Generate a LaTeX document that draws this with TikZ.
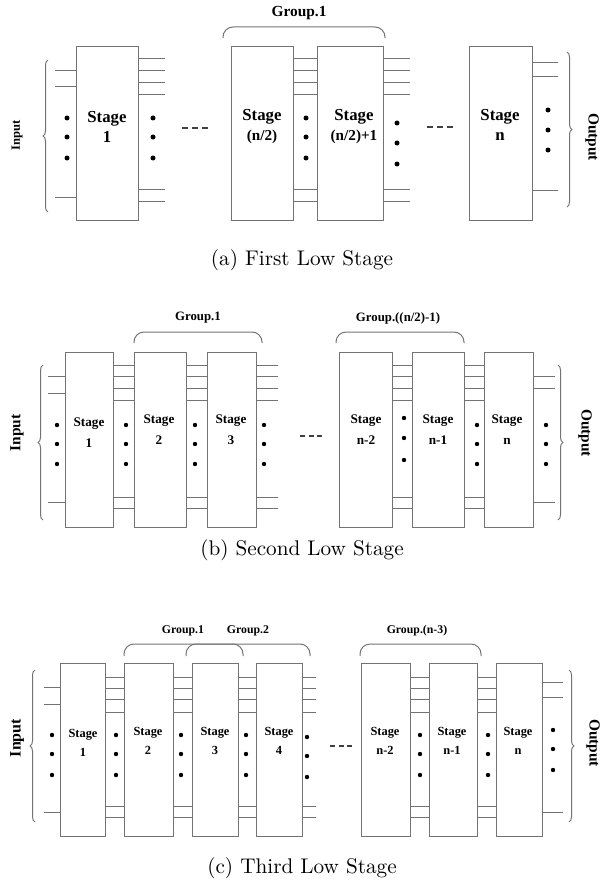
\documentclass[tikz,border=0pt]{standalone}
\usepackage{fontspec}
\newfontfamily\lblfont{Liberation Serif}
\usetikzlibrary{fit,decorations.pathreplacing}
\definecolor{wiregray}{RGB}{115,115,115}

\tikzset{
  stagebox/.style={draw=wiregray, line width=0.5pt, inner sep=0pt},
  stagetxt/.style={align=center, inner sep=0pt},
  wire/.style={draw=wiregray, line width=0.5pt},
  grpbrace/.style={draw=wiregray, line width=0.5pt, rounded corners=5pt},
  iobrace/.style={draw=wiregray, line width=0.5pt, decorate,
    decoration={brace, amplitude=2.5pt}},
  ellip/.style={draw=black!75, line width=0.55pt, dash pattern=on 3pt off 2pt},
  ellipsm/.style={ellip, dash pattern=on 2.5pt off 1.75pt},
  caption/.style={font=\fontsize{10.6}{12}\selectfont},
  fa/.style={font=\lblfont\bfseries\fontsize{8.4}{10}\selectfont},
  fb/.style={font=\lblfont\bfseries\fontsize{6.6}{10.5}\selectfont},
  fc/.style={font=\lblfont\bfseries\fontsize{6.2}{9.5}\selectfont},
}

\begin{document}
\begin{tikzpicture}[x=0.5pt, y=-0.5pt]
    \useasboundingbox (0,0) rectangle (600,883);

    % (a) first low stage
    \node[stagebox, fit={(76,47) (138,220)}] (a1) {};
    \node[stagebox, fit={(231,47) (293,220)}] (a2) {};
    \node[stagebox, fit={(317,47) (383,220)}] (a3) {};
    \node[stagebox, fit={(469,47) (532,220)}] (a4) {};
    \node[stagetxt, fa] (ta1) at (107,127) {Stage\\1};
    \node[stagetxt, fa] (ta2) at (262,127) {Stage\\{\fontsize{7.6}{10}\selectfont(n/2)}};
    \node[stagetxt, fa] (ta3) at (354,127) {Stage\\{\fontsize{7.6}{10}\selectfont(n/2)+1}};
    \node[stagetxt, fa] (ta4) at (500,125) {Stage\\n};

    \foreach \yy in {71,87,197}
        \draw[wire] (55,\yy) -- (a1.west |- 0,\yy);
    \foreach \yy in {59,71,83,95,189,201} {
        \draw[wire] (a1.east |- 0,\yy) -- +(26,0);
        \draw[wire] (a2.east |- 0,\yy) -- (a3.west |- 0,\yy);
        \draw[wire] (a3.east |- 0,\yy) -- +(26,0);
    }
    \foreach \yy in {63,77,190}
        \draw[wire] (a4.east |- 0,\yy) -- +(25,0);

    \foreach \yy in {118,137,158} {
        \fill (67,\yy) circle (1.25pt);
        \fill (153,\yy) circle (1.25pt);
        \fill (306,\yy) circle (1.25pt);
    }
    \foreach \yy in {123,143,164} \fill (397,\yy) circle (1.25pt);
    \foreach \yy in {110,130,150} \fill (548,\yy) circle (1.25pt);

    \draw[ellip] (182,128) -- (208,128);
    \draw[ellip] (427,127) -- (453,127);

    \draw[grpbrace] (223,38) -- (223,27) -- (385,27) -- (385,38);
    \node[font=\lblfont\bfseries\fontsize{7.7}{9}\selectfont] (ga1) at (299,13) {Group.1};

    \draw[iobrace] (48,212) -- (48,60);
    \draw[iobrace] (567,52) -- (567,207);
    \node[rotate=90, font=\lblfont\bfseries\fontsize{6.3}{8}\selectfont] (ina) at (17,135) {Input};
    \node[rotate=-90, font=\lblfont\bfseries\fontsize{7.7}{9}\selectfont] (outa) at (592,137) {Output};

    \node[caption] (capa) at (302,260) {(a) First Low Stage};

    % (b) second low stage
    \node[stagebox, fit={(65,352) (113,527)}] (b1) {};
    \node[stagebox, fit={(134,352) (186,527)}] (b2) {};
    \node[stagebox, fit={(207,352) (256,527)}] (b3) {};
    \node[stagebox, fit={(339,352) (392,527)}] (b4) {};
    \node[stagebox, fit={(412,352) (464,527)}] (b5) {};
    \node[stagebox, fit={(484,352) (533,527)}] (b6) {};
    \node[stagetxt, fb] (tb1) at (89,433) {Stage\\1};
    \node[stagetxt, fb] (tb2) at (159,430) {Stage\\2};
    \node[stagetxt, fb] (tb3) at (231,430) {Stage\\3};
    \node[stagetxt, fb] (tb4) at (366,430) {Stage\\n-2};
    \node[stagetxt, fb] (tb5) at (438,430) {Stage\\n-1};
    \node[stagetxt, fb] (tb6) at (507,430) {Stage\\n};

    \foreach \yy in {376,393,502}
        \draw[wire] (48,\yy) -- (b1.west |- 0,\yy);
    \foreach \yy in {365,376,388,400,497,508} {
        \draw[wire] (b1.east |- 0,\yy) -- (b2.west |- 0,\yy);
        \draw[wire] (b2.east |- 0,\yy) -- (b3.west |- 0,\yy);
        \draw[wire] (b3.east |- 0,\yy) -- +(21,0);
        \draw[wire] (b4.east |- 0,\yy) -- (b5.west |- 0,\yy);
        \draw[wire] (b5.east |- 0,\yy) -- (b6.west |- 0,\yy);
    }
    \foreach \yy in {376,388,502}
        \draw[wire] (b6.east |- 0,\yy) -- +(21,0);

    \foreach \yy in {425,444,464} {
        \fill (57,\yy) circle (1.1pt);
        \fill (126,\yy) circle (1.1pt);
        \fill (195,\yy) circle (1.1pt);
        \fill (264,\yy) circle (1.1pt);
        \fill (477,\yy) circle (1.1pt);
        \fill (546,\yy) circle (1.1pt);
    }
    \foreach \yy in {418,438,460} \fill (404,\yy) circle (1.1pt);

    \draw[ellipsm] (300,436) -- (322,436);

    \draw[grpbrace] (134,343) -- (134,332) -- (262,332) -- (262,343);
    \draw[grpbrace] (336,343) -- (336,332) -- (464,332) -- (464,343);
    \node[font=\lblfont\bfseries\fontsize{6.4}{8}\selectfont] (gb1) at (198,318) {Group.1};
    \node[font=\lblfont\bfseries\fontsize{6.4}{8}\selectfont] (gb2) at (398,318) {Group.((n/2)-1)};

    \draw[iobrace] (43,520) -- (43,365);
    \draw[iobrace] (558,365) -- (558,520);
    \node[rotate=90, font=\lblfont\bfseries\fontsize{7.7}{9}\selectfont] (inb) at (17,433) {Input};
    \node[rotate=-90, font=\lblfont\bfseries\fontsize{7.7}{9}\selectfont] (outb) at (585,433) {Output};

    \node[caption] (capb) at (302,550) {(b) Second Low Stage};

    % (c) third low stage
    \node[stagebox, fit={(60,663) (105,836)}] (c1) {};
    \node[stagebox, fit={(124,663) (173,836)}] (c2) {};
    \node[stagebox, fit={(192,663) (238,836)}] (c3) {};
    \node[stagebox, fit={(256,663) (302,836)}] (c4) {};
    \node[stagebox, fit={(361,663) (410,836)}] (c5) {};
    \node[stagebox, fit={(429,663) (477,836)}] (c6) {};
    \node[stagebox, fit={(496,663) (542,836)}] (c7) {};
    \node[stagetxt, fc] (tc1) at (83,743) {Stage\\1};
    \node[stagetxt, fc] (tc2) at (148,741) {Stage\\2};
    \node[stagetxt, fc] (tc3) at (215,741) {Stage\\3};
    \node[stagetxt, fc] (tc4) at (279,741) {Stage\\4};
    \node[stagetxt, fc] (tc5) at (385,741) {Stage\\n-2};
    \node[stagetxt, fc] (tc6) at (452,741) {Stage\\n-1};
    \node[stagetxt, fc] (tc7) at (518,741) {Stage\\n};

    \foreach \yy in {687,704,812}
        \draw[wire] (44,\yy) -- (c1.west |- 0,\yy);
    \foreach \yy in {677,688,699,712,806,817} {
        \draw[wire] (c1.east |- 0,\yy) -- (c2.west |- 0,\yy);
        \draw[wire] (c2.east |- 0,\yy) -- (c3.west |- 0,\yy);
        \draw[wire] (c3.east |- 0,\yy) -- (c4.west |- 0,\yy);
        \draw[wire] (c4.east |- 0,\yy) -- +(13,0);
        \draw[wire] (c5.east |- 0,\yy) -- (c6.west |- 0,\yy);
        \draw[wire] (c6.east |- 0,\yy) -- (c7.west |- 0,\yy);
    }
    \foreach \yy in {682,697,812}
        \draw[wire] (c7.east |- 0,\yy) -- +(20,0);

    \foreach \yy in {735,754,775} {
        \fill (52,\yy) circle (1.1pt);
        \fill (116,\yy) circle (1.1pt);
        \fill (181,\yy) circle (1.1pt);
        \fill (246,\yy) circle (1.1pt);
        \fill (420,\yy) circle (1.1pt);
        \fill (488,\yy) circle (1.1pt);
    }
    \foreach \yy in {737,756,777} \fill (307,\yy) circle (1.1pt);
    \foreach \yy in {730,749,770} \fill (553,\yy) circle (1.1pt);

    \draw[ellipsm] (330,746) -- (352,746);

    \draw[grpbrace] (124,656) -- (124,644) -- (243,644) -- (243,656);
    \draw[grpbrace] (186,656) -- (186,644) -- (310,644) -- (310,656);
    \draw[grpbrace] (360,656) -- (360,644) -- (481,644) -- (481,656);
    \node[font=\lblfont\bfseries\fontsize{5.9}{7}\selectfont] (gc1) at (183,631) {Group.1};
    \node[font=\lblfont\bfseries\fontsize{5.9}{7}\selectfont] (gc2) at (248,631) {Group.2};
    \node[font=\lblfont\bfseries\fontsize{5.9}{7}\selectfont] (gc3) at (417,631) {Group.(n-3)};

    \draw[iobrace] (35,822) -- (35,670);
    \draw[iobrace] (569,670) -- (569,822);
    \node[rotate=90, font=\lblfont\bfseries\fontsize{8}{9}\selectfont] (inc) at (17,738) {Input};
    \node[rotate=-90, font=\lblfont\bfseries\fontsize{7.7}{9}\selectfont] (outc) at (593,743) {Output};

    \node[caption] (capc) at (302,868) {(c) Third Low Stage};
\end{tikzpicture}
\end{document}
